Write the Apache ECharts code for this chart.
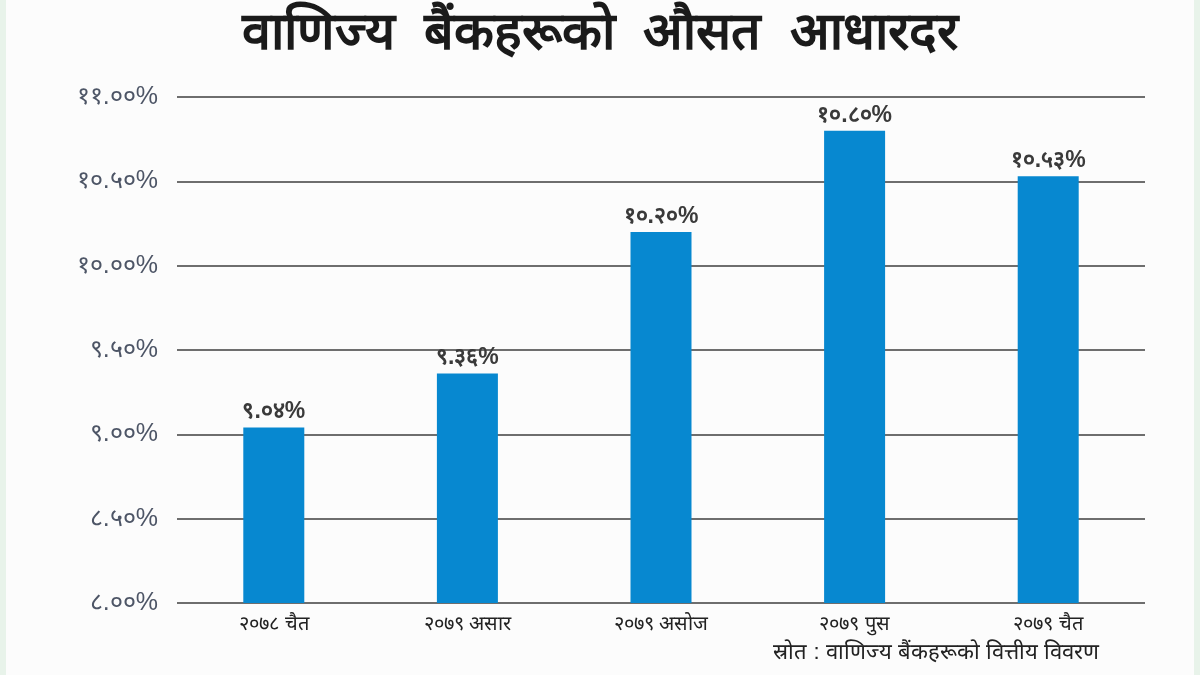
<!DOCTYPE html>
<html>
<head>
<meta charset="utf-8">
<title>वाणिज्य बैंकहरूको औसत आधारदर</title>
<script src="https://cdn.jsdelivr.net/npm/echarts@6/dist/echarts.min.js"></script>
<style>
  html, body { margin: 0; padding: 0; }
  body { width: 1200px; height: 675px; background: #fcfcfc; }
  /* पातलो हरियो किनारा */
  #wrap { width: 1188px; height: 675px; border-left: 6px solid #e8f3ea; border-right: 6px solid #e8f3ea; }
  #main { width: 1188px; height: 675px; }
</style>
</head>
<body>
<div id="wrap"><div id="main"></div></div>
<script>
// तथ्यांक
var categories = ['२०७८ चैत', '२०७९ असार', '२०७९ असोज', '२०७९ पुस', '२०७९ चैत'];
var rates = [9.04, 9.36, 10.20, 10.80, 10.53];
var yMin = 8, yMax = 11, yStep = 0.5;

var titleText = 'वाणिज्य  बैंकहरूको  औसत  आधारदर';
var sourceText = 'स्रोत : वाणिज्य बैंकहरूको वित्तीय विवरण';

var nepDigits = ['०','१','२','३','४','५','६','७','८','९'];
function toNep(s) {
  return String(s).replace(/[0-9]/g, function (d) { return nepDigits[+d]; });
}

var myChart = echarts.init(document.getElementById('main'));
myChart.setOption({
  backgroundColor: '#fcfcfc',
  animation: false,
  title: {
    text: titleText,
    left: 'center',
    top: 4,
    textStyle: { fontSize: 52, fontWeight: 'bold', color: '#1a1a1a', fontFamily: 'sans-serif' }
  },
  graphic: [{
    type: 'text',
    right: 95,
    top: 642,
    style: { text: sourceText, fontSize: 22, fill: '#222', fontFamily: 'sans-serif' }
  }],
  grid: { left: 171, right: 49, top: 97, bottom: 72 },
  xAxis: {
    type: 'category',
    data: categories,
    axisLine: { show: false },
    axisTick: { show: false },
    axisLabel: { fontSize: 20, color: '#222', margin: 11, fontFamily: 'sans-serif' }
  },
  yAxis: {
    type: 'value',
    min: yMin,
    max: yMax,
    interval: yStep,
    axisLine: { show: false },
    axisTick: { show: false },
    splitLine: { lineStyle: { color: '#6e6e6e', width: 2 } },
    axisLabel: {
      fontSize: 25,
      color: '#4d5566',
      margin: 19,
      fontFamily: 'sans-serif',
      formatter: function (v) { return toNep(v.toFixed(2)) + '%'; }
    }
  },
  series: [{
    type: 'bar',
    data: rates,
    barWidth: 61,
    itemStyle: { color: '#0788d0' },
    label: {
      show: true,
      position: 'top',
      distance: 4,
      fontSize: 23,
      fontWeight: 'bold',
      color: '#3a3a3a',
      fontFamily: 'sans-serif',
      formatter: function (p) { return toNep(p.value.toFixed(2)) + '%'; }
    }
  }]
});
</script>
</body>
</html>
